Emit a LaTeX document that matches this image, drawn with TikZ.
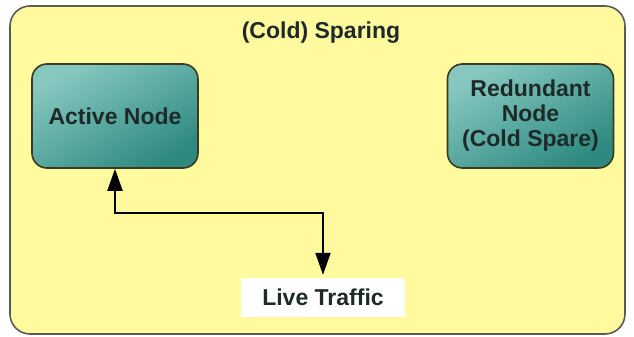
\documentclass[tikz,border=0pt]{standalone}
\usepackage{fontspec}
\setmainfont{Liberation Sans}
\usetikzlibrary{arrows.meta}
\definecolor{panelyellow}{HTML}{FFFA9E}
\definecolor{tealdark}{HTML}{2E8A80}
\definecolor{teallight}{HTML}{86C8C0}
\definecolor{rimdark}{HTML}{3A3A22}
\definecolor{inkdark}{HTML}{1E2A2A}
\begin{document}
\begin{tikzpicture}[x=1pt,y=-1pt,
  nodebox/.style={draw=rimdark,line width=1.6pt,rounded corners=15pt,
    top color=teallight,bottom color=tealdark,shading angle=30,
    minimum width=166pt,minimum height=104pt,align=center,
    text=inkdark,font=\bfseries\fontsize{23}{25}\selectfont},
  label/.style={text=inkdark,font=\bfseries\fontsize{23}{25}\selectfont}]
\useasboundingbox (0,0) rectangle (634,337);
\draw[draw=black!65,line width=1.6pt,fill=panelyellow,rounded corners=20pt]
  (10,6) rectangle (625,334);
\node[label] (title) at (321,33) {(Cold) Sparing};

\node[nodebox] (active) at (115,116) {Active Node};
\node[nodebox] (spare) at (530.5,116) {Redundant\\Node\\(Cold Spare)};

\node[label,fill=white,minimum width=164pt,minimum height=39pt] (traffic) at (323,297.5) {Live Traffic};

\coordinate (bend) at (323,213);
\draw[{Triangle[length=22pt,width=15pt]}-{Triangle[length=22pt,width=15pt]},line width=2pt,shorten >=3pt]
  (active.south) |- (bend) -- (traffic.north);
\end{tikzpicture}
\end{document}
